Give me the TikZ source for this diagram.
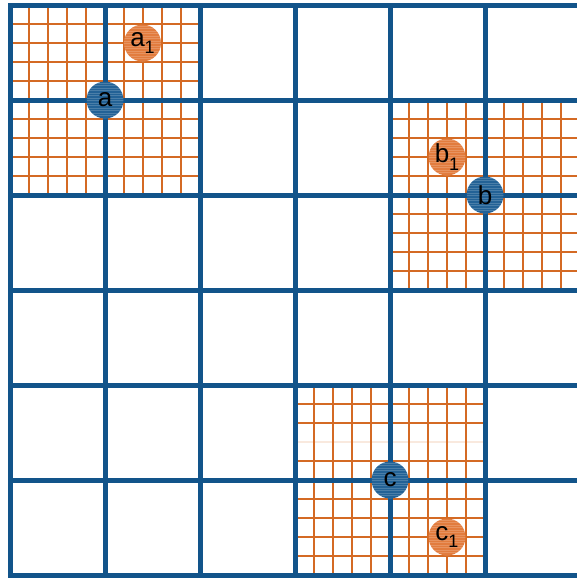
\documentclass[tikz,border=0pt]{standalone}
\usepackage{fontspec}
\setmainfont{Liberation Sans}
\definecolor{gblue}{RGB}{18,84,138}
\definecolor{gorange}{RGB}{212,106,36}
\definecolor{cblue}{RGB}{35,98,150}
\definecolor{corange}{RGB}{226,124,62}
\newcommand{\subone}{\raisebox{-0.28em}{\fontsize{18}{18}\selectfont 1}}
\begin{document}
\begin{tikzpicture}[x=1pt,y=-1pt,
  fine/.style={gorange, line width=1.3pt},
  heavy/.style={gblue, line width=5pt, line cap=rect},
  dot/.style={circle, minimum size=37pt, inner sep=0pt, font=\fontsize{26}{26}\selectfont,
    path picture={
      \foreach \h in {-18,-15.5,...,18} {
        \draw[white, opacity=0.18, line width=0.6pt]
          ([yshift=\h pt]path picture bounding box.west) -- ([yshift=\h pt]path picture bounding box.east);
      }
    }}]
\useasboundingbox (0,0) rectangle (577,579);
\begin{scope}
\clip (0,0) rectangle (577,579);
% fine orange grid, top-left block
\foreach \p in {29,48,67,86,124,143,162,181} {
  \draw[fine] (\p,5) -- (\p,195);
}
\foreach \p in {24,43,62,81,119,138,157,176} {
  \draw[fine] (10,\p) -- (200,\p);
}
% fine orange grid, right block
\foreach \p in {409,428,447,466,504,523,542,561} {
  \draw[fine] (\p,100) -- (\p,290);
}
\foreach \p in {119,138,157,176,214,233,252,271} {
  \draw[fine] (390,\p) -- (580,\p);
}
% fine orange grid, bottom block
\foreach \p in {314,333,352,371,409,428,447,466} {
  \draw[fine] (\p,385) -- (\p,575);
}
\foreach \p in {404,423,461,499,518,537,556} {
  \draw[fine] (295,\p) -- (485,\p);
}
\draw[fine, opacity=0.15] (295,442) -- (485,442);
% heavy blue grid
\foreach \p in {10,105,200,295,390,485} {
  \draw[heavy] (\p,5) -- (\p,575);
}
\foreach \p in {5,100,195,290,385,480,575} {
  \draw[heavy] (10,\p) -- (580,\p);
}
\end{scope}
% points
\node[dot, fill=cblue] (a) at (105,100) {a};
\node[dot, fill=corange] (a1) at (142.5,43) {a\subone};
\node[dot, fill=cblue] (b) at (485,195) {b};
\node[dot, fill=corange] (b1) at (447,157) {b\subone};
\node[dot, fill=cblue] (c) at (390,480) {c};
\node[dot, fill=corange] (c1) at (447,537) {c\subone};
\end{tikzpicture}
\end{document}
